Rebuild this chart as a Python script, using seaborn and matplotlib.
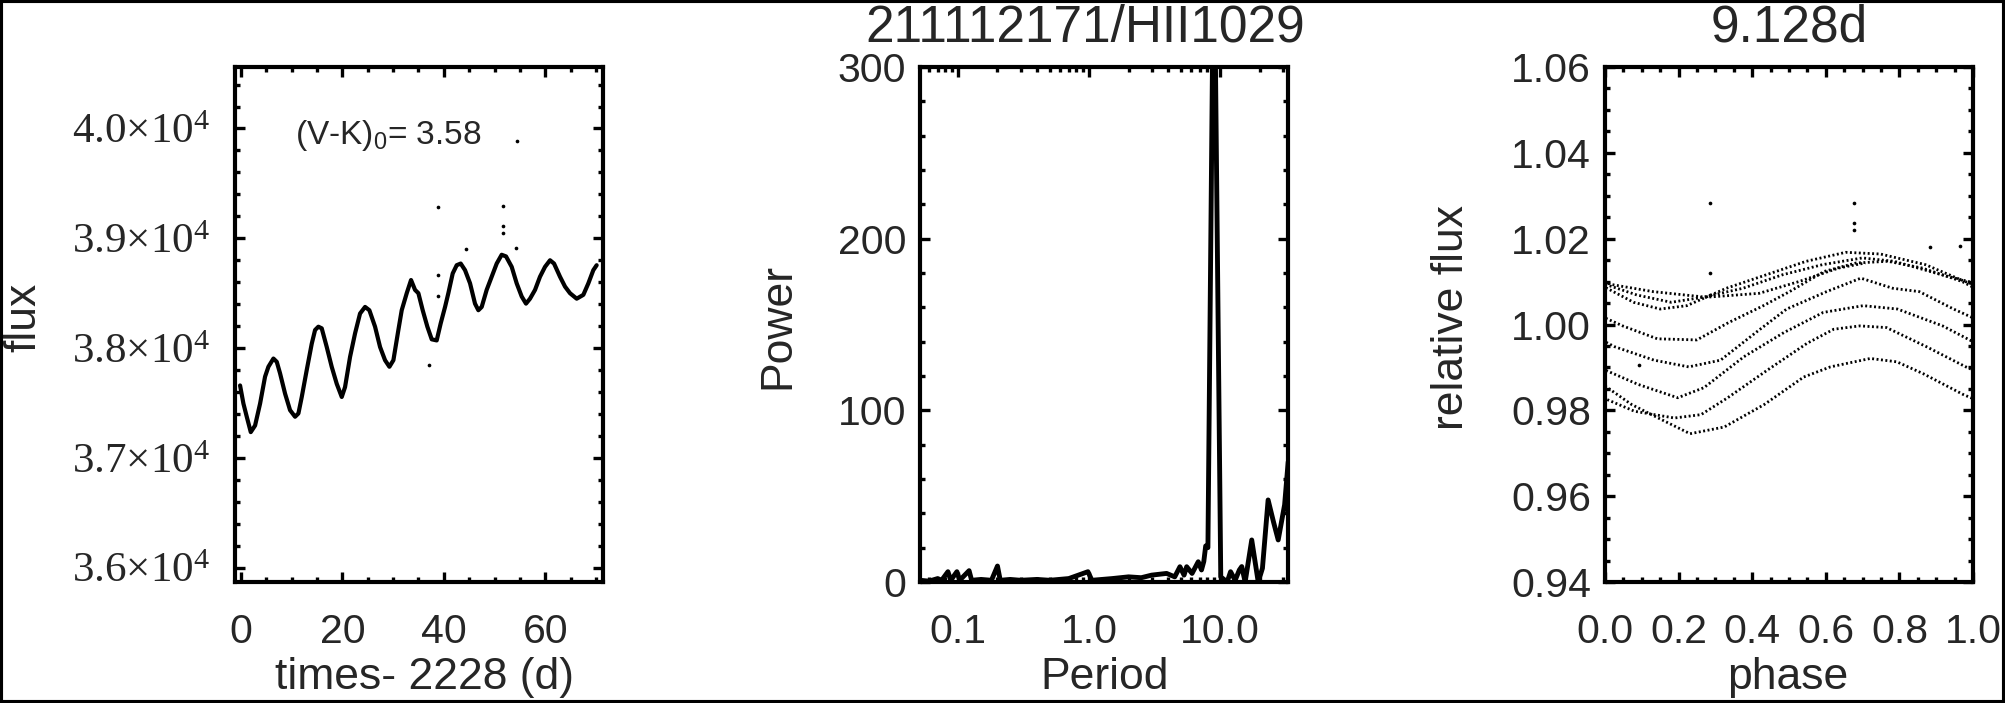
import numpy as np
import pandas as pd
import matplotlib
matplotlib.use("Agg")
import matplotlib.pyplot as plt
import seaborn as sns
from matplotlib.ticker import AutoMinorLocator, LogLocator, NullFormatter
from matplotlib.patches import Rectangle

# ---------------- data ----------------
star_name = "211112171/HII1029"
best_period = 9.128
vk0 = 3.58

# light curve (days since 2228, flux)
t_lc = [-0.2, 0.46, 1.12, 1.91, 2.76, 3.75, 4.73, 5.39, 6.38, 7.04, 7.69, 8.68, 9.66,
        10.65, 11.31, 11.97, 12.95, 13.94, 14.60, 15.25, 15.91, 16.90, 17.88, 18.87,
        19.86, 20.51, 21.50, 22.49, 23.47, 24.46, 25.31, 26.43, 27.42, 28.40, 29.26,
        30.05, 31.03, 31.69, 32.68, 33.53, 34.32, 34.98, 35.83, 36.75, 37.61, 38.59,
        39.38, 40.24, 40.89, 41.75, 42.54, 43.33, 44.18, 45.17, 46.15, 46.81, 47.47,
        48.45, 49.44, 50.43, 51.41, 52.27, 53.39, 54.37, 55.36, 56.21, 57.00, 57.99,
        58.97, 59.96, 60.95, 61.74, 62.92, 63.91, 64.89, 66.21, 67.52, 68.51, 69.49, 70.15]
flux_lc = [37660, 37495, 37375, 37235, 37295, 37495, 37740, 37830, 37905, 37875, 37770,
           37585, 37435, 37375, 37405, 37555, 37800, 38040, 38165, 38195, 38180, 38010,
           37830, 37675, 37555, 37645, 37920, 38135, 38315, 38375, 38345, 38195, 38010,
           37890, 37830, 37890, 38165, 38345, 38500, 38620, 38530, 38500, 38345, 38195,
           38080, 38070, 38225, 38375, 38500, 38680, 38755, 38770, 38710, 38590, 38405,
           38345, 38375, 38530, 38650, 38770, 38850, 38835, 38740, 38590, 38470, 38405,
           38450, 38530, 38650, 38740, 38800, 38770, 38650, 38560, 38500, 38450, 38485,
           38590, 38710, 38755]
# isolated outlier points
t_out = [37.15, 38.92, 38.92, 38.92, 44.38, 51.61, 51.61, 51.61, 54.24]
flux_out = [37845, 39285, 38665, 38470, 38900, 39290, 39110, 39045, 38910]
# point seen only in the light-curve panel
t_lc_only = [54.34]
flux_lc_only = [39885]

# periodogram
period_grid = [0.0515, 0.06, 0.07, 0.075, 0.0838, 0.088, 0.0981, 0.103, 0.1215, 0.127,
               0.15, 0.18, 0.2, 0.21, 0.25, 0.3, 0.4, 0.5, 0.7, 0.98, 1.05, 1.5, 2.0,
               2.5, 3.0, 3.9, 4.5, 4.93, 5.3, 5.55, 6.1, 6.8, 7.2, 7.5, 7.75, 8.06, 8.95,
               10.1, 11.3, 12.0, 13.0, 14.0, 14.6, 15.5, 17.4, 19.5, 21.0, 23.2, 25.5,
               27.7, 31.0, 33.0]
power = [1, 0.5, 2, 1, 6, 1, 6, 1, 6.6, 1,
         1.5, 1, 9.3, 1, 1.5, 1, 1.5, 1, 2, 6, 1, 2, 3,
         2.5, 4, 5, 3, 8.9, 4, 8.9, 5, 11.8, 7, 12, 21, 20, 390,
         3, 0, 6, 1, 7, 9, 0, 24.5, 0, 8, 47.8, 35,
         24.5, 45, 70]

# ticks
lc_xticks = [0, 20, 40, 60]
lc_xticklabels = ["0", "20", "40", "60"]
lc_yticks = [36000, 37000, 38000, 39000, 40000]
lc_yticklabels = ["3.6×10$^4$", "3.7×10$^4$", "3.8×10$^4$", "3.9×10$^4$", "4.0×10$^4$"]
pg_xticks = [0.1, 1.0, 10.0]
pg_xticklabels = ["0.1", "1.0", "10.0"]
pg_yticks = [0, 100, 200, 300]
pg_yticklabels = ["0", "100", "200", "300"]
ph_xticks = [0.0, 0.2, 0.4, 0.6, 0.8, 1.0]
ph_xticklabels = ["0.0", "0.2", "0.4", "0.6", "0.8", "1.0"]
ph_yticks = [0.94, 0.96, 0.98, 1.00, 1.02, 1.04, 1.06]
ph_yticklabels = ["0.94", "0.96", "0.98", "1.00", "1.02", "1.04", "1.06"]

# ---------------- style ----------------
sns.set_style("ticks")
plt.rcParams["font.family"] = ["Liberation Sans", "DejaVu Sans"]
plt.rcParams["mathtext.default"] = "regular"

W, H = 2005, 703
fig = plt.figure(figsize=(W / 100, H / 100), dpi=100)
fig.patch.set_facecolor("white")


def add_ax(x0):
    return fig.add_axes([x0 / W, 1 - 582 / H, 368 / W, 515 / H])


ax1, ax2, ax3 = add_ax(235), add_ax(920), add_ax(1605)


def style(ax, ypad):
    for s in ax.spines.values():
        s.set_visible(True)
        s.set_linewidth(3)
        s.set_color("k")
    ax.tick_params(which="both", direction="in", top=True, right=True,
                   color="k", width=2.4)
    ax.tick_params(which="major", length=7)
    ax.tick_params(which="minor", length=3.5)
    ax.tick_params(axis="x", which="major", pad=22, labelsize=29.5)
    ax.tick_params(axis="y", which="major", pad=ypad, labelsize=29.5)
    ax.grid(False)


TXT = dict(fontsize=32)
TITLE = dict(fontsize=37, pad=18.6)

# ---------------- panel 1: light curve ----------------
df_lc = pd.DataFrame({"t": t_lc, "flux": flux_lc})
df_out = pd.DataFrame({"t": t_out + t_lc_only, "flux": flux_out + flux_lc_only})
sns.lineplot(data=df_lc, x="t", y="flux", sort=False, estimator=None,
             color="k", lw=3.0, ax=ax1)
sns.scatterplot(data=df_out, x="t", y="flux", color="k", s=7, linewidth=0, ax=ax1)
ax1.set_xlim(-1.2, 71.4)
ax1.set_ylim(35870, 40560)
style(ax1, 18)
ax1.set_xticks(lc_xticks, lc_xticklabels)
ax1.set_yticks(lc_yticks, lc_yticklabels)
for lab in ax1.get_yticklabels():
    lab.set_fontfamily(["Liberation Serif", "DejaVu Serif"])
    lab.set_fontsize(31)
ax1.xaxis.set_minor_locator(AutoMinorLocator(4))
ax1.yaxis.set_minor_locator(AutoMinorLocator(5))
ax1.set_xlabel("times- 2228 (d)", va="center", **TXT)
ax1.set_ylabel("flux", va="center", **TXT)
ax1.xaxis.set_label_coords(0.516, -0.186)
ax1.yaxis.set_label_coords(-0.573, 0.513)
ax1.text(0.164, 0.851, "(V-K)$_0$= " + f"{vk0:.2f}", transform=ax1.transAxes,
         fontsize=24, va="baseline", ha="left")

# ---------------- panel 2: periodogram ----------------
df_pg = pd.DataFrame({"period": period_grid, "power": power})
sns.lineplot(data=df_pg, x="period", y="power", sort=False, estimator=None,
             color="k", lw=3.5, ax=ax2)
ax2.set_xscale("log")
ax2.set_xlim(0.0513, 32.9)
ax2.set_ylim(0, 300)
style(ax2, 10)
ax2.set_xticks(pg_xticks, pg_xticklabels)
ax2.set_yticks(pg_yticks, pg_yticklabels)
ax2.xaxis.set_minor_locator(LogLocator(base=10, subs=np.arange(2, 10)))
ax2.xaxis.set_minor_formatter(NullFormatter())
ax2.yaxis.set_minor_locator(AutoMinorLocator(5))
ax2.set_xlabel("Period", va="center", **TXT)
ax2.set_ylabel("Power", va="center", **TXT)
ax2.xaxis.set_label_coords(0.503, -0.186)
ax2.yaxis.set_label_coords(-0.386, 0.497)
ax2.set_title(star_name, x=0.45, **TITLE)

# ---------------- panel 3: phased light curve ----------------
t_arr = np.array(t_lc, dtype=float)
f_arr = np.array(flux_lc, dtype=float)
norm = f_arr.mean()
cyc_pos = (t_arr - t_arr[0]) / best_period
cycle = np.floor(cyc_pos).astype(int)
phase = cyc_pos - cycle
rows = []
for c in np.unique(cycle):
    idx = np.where(cycle == c)[0]
    ph = list(phase[idx])
    fl = list(f_arr[idx] / norm)
    prev = np.where(cycle == c - 1)[0]
    nxt = np.where(cycle == c + 1)[0]
    if len(prev):
        ph.insert(0, phase[prev[-1]] - 1)
        fl.insert(0, f_arr[prev[-1]] / norm)
    if len(nxt):
        ph.append(phase[nxt[0]] + 1)
        fl.append(f_arr[nxt[0]] / norm)
    for p, f in zip(ph, fl):
        rows.append((c, p, f))
df_ph = pd.DataFrame(rows, columns=["cycle", "phase", "rel"])
to = np.array(t_out, dtype=float)
df_ph_out = pd.DataFrame({"phase": ((to - t_arr[0]) / best_period) % 1,
                          "rel": np.array(flux_out) / norm})
sns.lineplot(data=df_ph, x="phase", y="rel", units="cycle", estimator=None,
             sort=False, color="k", lw=2.0, linestyle=(0, (0.7, 0.9)), ax=ax3)
sns.scatterplot(data=df_ph_out, x="phase", y="rel", color="k", s=7, linewidth=0, ax=ax3)
ax3.set_xlim(0, 1)
ax3.set_ylim(0.94, 1.06)
style(ax3, 10)
ax3.set_xticks(ph_xticks, ph_xticklabels)
ax3.set_yticks(ph_yticks, ph_yticklabels)
ax3.xaxis.set_minor_locator(AutoMinorLocator(4))
ax3.yaxis.set_minor_locator(AutoMinorLocator(4))
ax3.set_xlabel("phase", va="center", **TXT)
ax3.set_ylabel("relative flux", va="center", **TXT)
ax3.xaxis.set_label_coords(0.497, -0.186)
ax3.yaxis.set_label_coords(-0.418, 0.514)
ax3.set_title(f"{best_period:.3f}d", **TITLE)

# figure frame
fig.add_artist(Rectangle((0, 0), 1, 1, transform=fig.transFigure, fill=False,
                         edgecolor="k", linewidth=4.4))

fig.savefig("out.png", dpi=100, facecolor="white")
